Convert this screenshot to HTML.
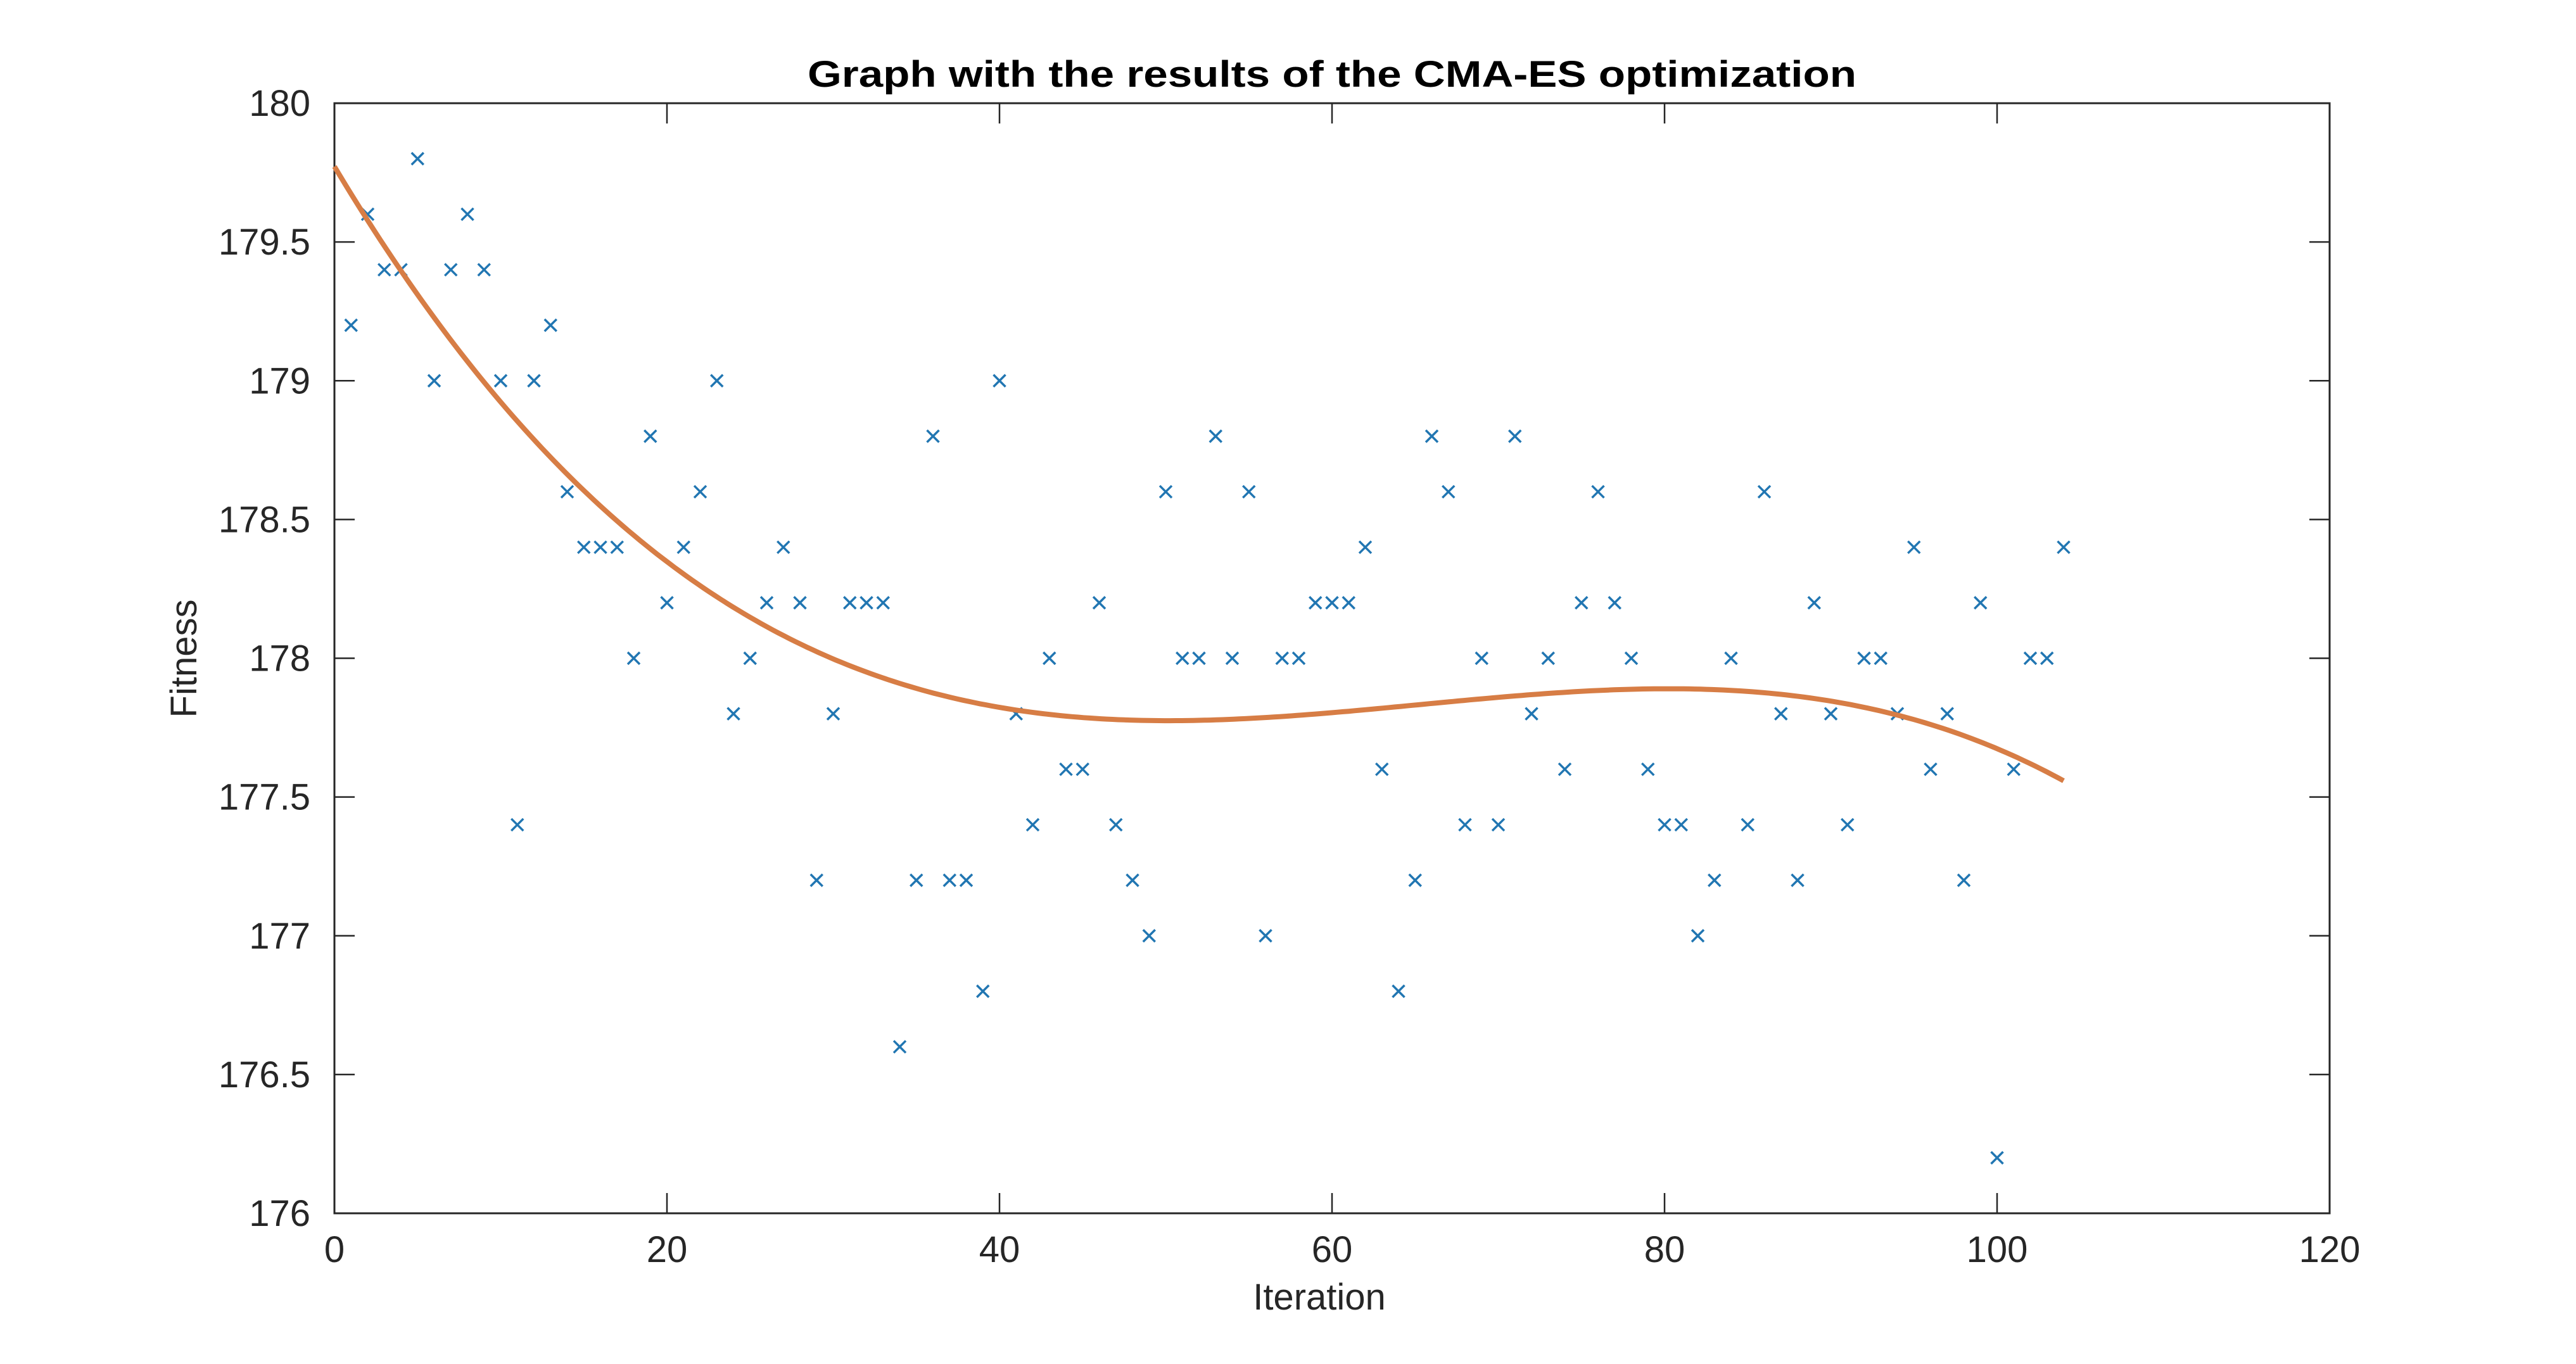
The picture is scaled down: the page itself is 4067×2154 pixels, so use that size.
<!DOCTYPE html>
<html><head><meta charset="utf-8"><style>
html,body{margin:0;padding:0;background:#fff}
svg{display:block}
text{font-family:"Liberation Sans",Arial,sans-serif;fill:#262626}
</style></head><body>
<svg id="chart" width="4067" height="2154" viewBox="0 0 4067 2154" xmlns="http://www.w3.org/2000/svg">
<rect width="4067" height="2154" fill="#fff"/>
<text x="2103" y="137" text-anchor="middle" font-weight="bold" font-size="58" textLength="1656" lengthAdjust="spacingAndGlyphs" style="fill:#000">Graph with the results of the CMA-ES optimization</text>
<g id="axes"></g>
<g id="marks"></g>
<text x="2083" y="2068" text-anchor="middle" font-size="58">Iteration</text>
<text x="0" y="0" text-anchor="middle" font-size="58" transform="translate(310,1040) rotate(-90)">Fitness</text>
</svg>
<script>
const iterations = [];
for (let i = 1; i <= 104; i++) iterations.push(i);
const fitness = [179.2,179.6,179.4,179.4,179.8,179.0,179.4,179.6,179.4,179.0,177.4,179.0,179.2,178.6,178.4,178.4,178.4,178.0,178.8,178.2,178.4,178.6,179.0,177.8,178.0,178.2,178.4,178.2,177.2,177.8,178.2,178.2,178.2,176.6,177.2,178.8,177.2,177.2,176.8,179.0,177.8,177.4,178.0,177.6,177.6,178.2,177.4,177.2,177.0,178.6,178.0,178.0,178.8,178.0,178.6,177.0,178.0,178.0,178.2,178.2,178.2,178.4,177.6,176.8,177.2,178.8,178.6,177.4,178.0,177.4,178.8,177.8,178.0,177.6,178.2,178.6,178.2,178.0,177.6,177.4,177.4,177.0,177.2,178.0,177.4,178.6,177.8,177.2,178.2,177.8,177.4,178.0,178.0,177.8,178.4,177.6,177.8,177.2,178.2,176.2,177.6,178.0,178.0,178.4];
const trendX = [0,10,20,30,40,50,60,70,80,90,100,104];
const trendY = [179.75,178.98,178.32,177.98,177.82,177.78,177.81,177.87,177.90,177.82,177.67,177.57];
const xTicks = [0,20,40,60,80,100,120];
const yTicks = [176,176.5,177,177.5,178,178.5,179,179.5,180];
const xTickLabels = ["0","20","40","60","80","100","120"];
const yTickLabels = ["176","176.5","177","177.5","178","178.5","179","179.5","180"];

const L=528,R=3678,T=163,B=1916;
const xMin=0,xMax=120,yMin=176,yMax=180;
const sx=v=>L+(v-xMin)/(xMax-xMin)*(R-L);
const sy=v=>B-(v-yMin)/(yMax-yMin)*(B-T);
const NS="http://www.w3.org/2000/svg";
function mk(tag,attrs,parent){const e=document.createElementNS(NS,tag);for(const k in attrs)e.setAttribute(k,attrs[k]);parent.appendChild(e);return e;}
const axes=document.getElementById('axes');
const marks=document.getElementById('marks');
const ac="#262626", tl=32;

xTicks.forEach((t,i)=>{
  const x=sx(t);
  let a=mk('line',{x1:x,y1:B,x2:x,y2:B-tl,stroke:ac,'stroke-width':2.5},axes);
  
  
  let b=mk('line',{x1:x,y1:T,x2:x,y2:T+tl,stroke:ac,'stroke-width':2.5},axes);
  
  
  let tx=mk('text',{x:x,y:1993,'text-anchor':'middle','font-size':58},axes);
  tx.textContent=xTickLabels[i];
  
  
});
yTicks.forEach((t,i)=>{
  const y=sy(t);
  let a=mk('line',{x1:L,y1:y,x2:L+tl,y2:y,stroke:ac,'stroke-width':2.5},axes);
  
  
  let b=mk('line',{x1:R,y1:y,x2:R-tl,y2:y,stroke:ac,'stroke-width':2.5},axes);
  
  
  let tx=mk('text',{x:490,y:y+20,'text-anchor':'end','font-size':58},axes);
  tx.textContent=yTickLabels[i];
  
  
});
let box=mk('rect',{x:L,y:T,width:R-L,height:B-T,fill:'none',stroke:ac,'stroke-width':3},axes);



const h=9.5;
iterations.forEach((it,i)=>{
  const x=sx(it),y=sy(fitness[i]);
  let p=mk('path',{d:`M${x-h},${y-h}L${x+h},${y+h}M${x-h},${y+h}L${x+h},${y-h}`,stroke:'#2176B2','stroke-width':3.5,fill:'none'},marks);
  
  
});

function polyfit(xs,ys,deg){
  const n=deg+1,A=[];for(let i=0;i<n;i++){A.push(new Array(n+1).fill(0));}
  xs.forEach((xv,k)=>{const u=xv/104;for(let i=0;i<n;i++){for(let j=0;j<n;j++)A[i][j]+=Math.pow(u,i+j);A[i][n]+=Math.pow(u,i)*ys[k];}});
  for(let i=0;i<n;i++){let m=i;for(let r=i+1;r<n;r++)if(Math.abs(A[r][i])>Math.abs(A[m][i]))m=r;[A[i],A[m]]=[A[m],A[i]];
    for(let r=0;r<n;r++){if(r===i)continue;const f=A[r][i]/A[i][i];for(let c=i;c<=n;c++)A[r][c]-=f*A[i][c];}}
  return A.map((row,i)=>row[n]/row[i]);
}
const co=polyfit(trendX,trendY,4);
const f=x=>{const u=x/104;let s=0;for(let i=co.length-1;i>=0;i--)s=s*u+co[i];return s;};
let d='';
const x0=trendX[0],x1=trendX[trendX.length-1];
for(let k=0;k<=300;k++){const x=x0+(x1-x0)*k/300;d+=(k?'L':'M')+sx(x).toFixed(1)+','+sy(f(x)).toFixed(1);}
let tr=mk('path',{d:d,stroke:'#D77D45','stroke-width':8,fill:'none'},marks);


</script>
</body></html>
